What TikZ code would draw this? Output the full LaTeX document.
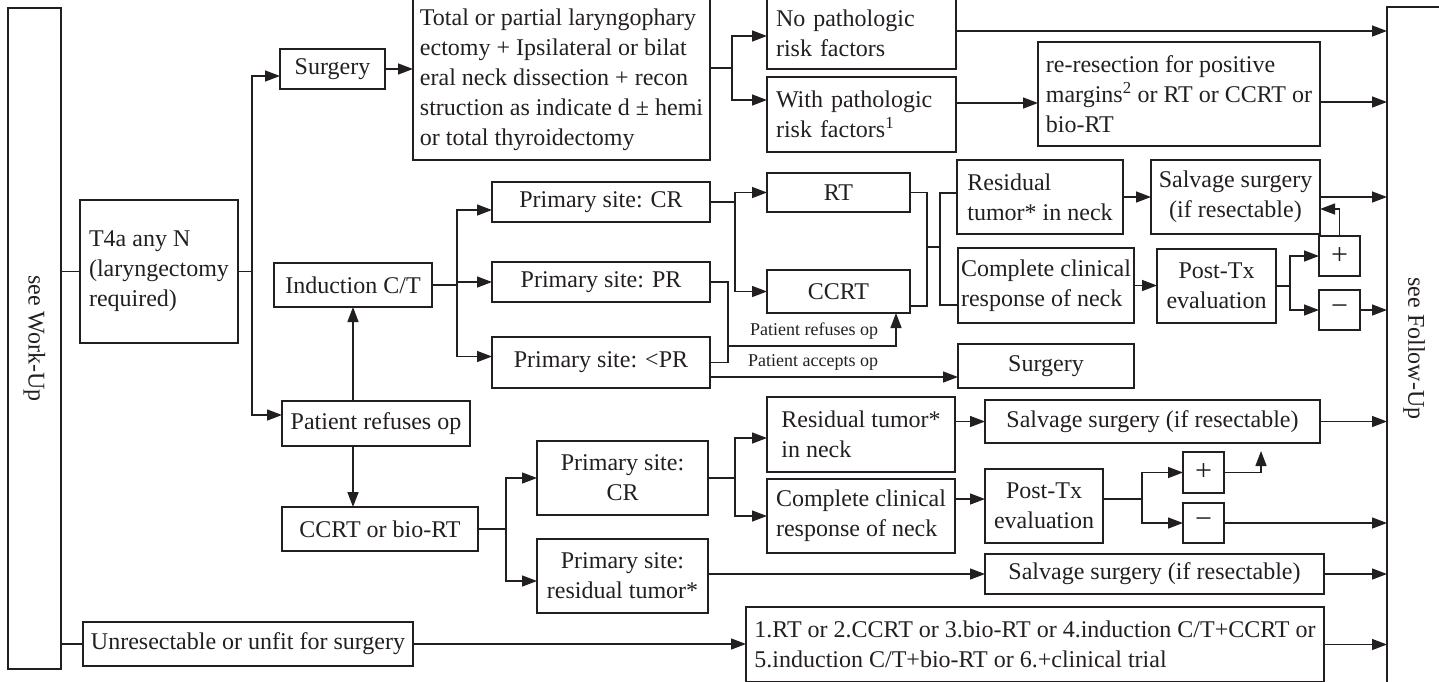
\documentclass[tikz,border=0pt]{standalone}
\usepackage{fontspec}
\setmainfont{Liberation Serif}
\usepackage{graphicx}
\usepackage{tikz}
\usetikzlibrary{arrows.meta,calc}
\definecolor{inkDark}{RGB}{35,31,32}

\tikzset{
  box/.style={draw=inkDark, line width=1.4pt, text=inkDark, inner sep=0pt, outer sep=0pt,
              align=center, font=\fontsize{24}{30}\selectfont},
  lbox/.style={box, align=left},
  wbox/.style={box, align=left, text width=#1},
  sign/.style={box, font=\fontsize{30}{30}\selectfont},
  line/.style={draw=inkDark, line width=1.4pt},
  arr/.style={line, -{Triangle[length=15pt,width=11pt]}},
  note/.style={text=inkDark, inner sep=0pt, font=\fontsize{18}{20}\selectfont}
}

\begin{document}
\begin{tikzpicture}[x=1pt,y=-1pt]
  \useasboundingbox (0,0) rectangle (1439,681);

  % side bars
  \node[box, minimum width=53pt, minimum height=661pt] (workup) at (34.5,338.5) {\rotatebox{-90}{see Work-Up}};
  \node[box, minimum width=54pt, minimum height=683pt] (followup) at (1414,348.5) {\rotatebox{-90}{see Follow-Up}};

  % stage
  \node[lbox, minimum width=158pt, minimum height=143pt] (t4a) at (159,271.5) {T4a any N\\(laryngectomy\\required)};

  % surgery row
  \node[box, minimum width=105pt, minimum height=40pt] (surg1) at (332.5,69) {Surgery};
  \node[lbox, minimum width=297pt, minimum height=161pt] (bigbox) at (561.5,79.5)
    {Total or partial laryngophary\\ectomy + Ipsilateral or bilat\\eral neck dissection + recon\\struction as indicate d ± hemi\\or total thyroidectomy};
  \node[wbox=171pt, minimum width=189pt, minimum height=71pt] (nopath) at (861.5,33.5) {No pathologic\\risk factors};
  \node[wbox=171pt, minimum width=189pt, minimum height=75pt] (withpath) at (861.5,114.5) {With pathologic\\risk factors\textsuperscript{1}};
  \node[lbox, minimum width=282pt, minimum height=104pt] (reres) at (1179,94)
    {re-resection for positive\\margins\textsuperscript{2} or RT or CCRT or\\bio-RT};

  % induction row
  \node[box, minimum width=158pt, minimum height=44pt] (induc) at (353,285) {Induction C/T};
  \node[box, minimum width=218pt, minimum height=40pt] (pcr) at (601,202) {Primary site: CR};
  \node[box, minimum width=218pt, minimum height=40pt] (ppr) at (601,282) {Primary site: PR};
  \node[box, minimum width=218pt, minimum height=51pt] (plpr) at (601,362.5) {Primary site: <PR};
  \node[box, minimum width=143pt, minimum height=39pt] (rt) at (838.5,192.5) {RT};
  \node[box, minimum width=143pt, minimum height=43pt] (ccrt) at (838.5,291.5) {CCRT};
  \node[lbox, minimum width=166pt, minimum height=74pt] (resid1) at (1040,197) {Residual\\tumor* in neck};
  \node[lbox, minimum width=176pt, minimum height=75pt] (compl1) at (1046,285.5) {Complete clinical\\response of neck};
  \node[box, minimum width=169pt, minimum height=74pt] (salv1) at (1235.5,197) {Salvage surgery\\(if resectable)};
  \node[box, minimum width=119pt, minimum height=74pt] (postx1) at (1216.5,286) {Post-Tx\\evaluation};
  \node[sign, minimum width=41pt, minimum height=40pt] (plus1) at (1339.5,256) {+};
  \node[sign, minimum width=41pt, minimum height=40pt] (minus1) at (1339.5,310) {−};
  \node[box, minimum width=176pt, minimum height=44pt] (surg2) at (1046,366) {Surgery};

  % patient refuses op row
  \node[box, minimum width=188pt, minimum height=45pt] (refuse) at (376,423.5) {Patient refuses op};
  \node[box, minimum width=196pt, minimum height=44pt] (ccrtbio) at (380,529) {CCRT or bio-RT};
  \node[box, minimum width=171pt, minimum height=74pt] (pcr2) at (622.5,478) {Primary site:\\CR};
  \node[box, minimum width=171pt, minimum height=74pt] (pres) at (622.5,576) {Primary site:\\residual tumor*};
  \node[lbox, minimum width=188pt, minimum height=75pt] (resid2) at (861,434.5) {Residual tumor*\\in neck};
  \node[lbox, minimum width=188pt, minimum height=74pt] (compl2) at (861,516) {Complete clinical\\response of neck};
  \node[box, minimum width=335pt, minimum height=43pt] (salv2) at (1152.5,421.5) {Salvage surgery (if resectable)};
  \node[box, minimum width=118pt, minimum height=74pt] (postx2) at (1044,506) {Post-Tx\\evaluation};
  \node[sign, minimum width=41pt, minimum height=41pt] (plus2) at (1203.5,472.5) {+};
  \node[sign, minimum width=41pt, minimum height=40pt] (minus2) at (1203.5,523) {−};
  \node[box, minimum width=339pt, minimum height=40pt] (salv3) at (1154.5,574) {Salvage surgery (if resectable)};

  % unresectable row
  \node[box, minimum width=330pt, minimum height=44pt] (unres) at (248,644) {Unresectable or unfit for surgery};
  \node[lbox, minimum width=578pt, minimum height=75pt] (options) at (1035,644.5)
    {1.RT or 2.CCRT or 3.bio-RT or 4.induction C/T+CCRT or\\5.induction C/T+bio-RT or 6.+clinical trial};

  % labels on the <PR connectors
  \node[note] (lblrefuse) at (814,331.5) {Patient refuses op};
  \node[note] (lblaccept) at (813,362) {Patient accepts op};

  % helper points
  \coordinate (splitT) at (252,271.5);
  \coordinate (splitS) at (732,68);
  \coordinate (splitI) at (457,285);
  \coordinate (splitC) at (735,202);
  \coordinate (joinP) at (728,346);
  \coordinate (refuseUp) at (896,346);
  \coordinate (mergeR) at (927,247);
  \coordinate (splitN) at (940,247);
  \coordinate (splitE) at (1290,286);
  \coordinate (splitB) at (506,529);
  \coordinate (splitR) at (735,478);
  \coordinate (splitF) at (1142,499);
  \coordinate (plusTip) at (1261,451);

  % Work-Up links
  \draw[line] (t4a.west) -- (t4a.west -| workup.east);
  \draw[line] (unres.west) -- (unres.west -| workup.east);
  \draw[line] (t4a.east) -- (splitT);
  \draw[arr] (splitT) |- ([yshift=-7pt]surg1.west);
  \draw[arr] (splitT) |- ([yshift=8.5pt]refuse.west);

  % surgery branch
  \draw[arr] (surg1.east) -- (surg1.east -| bigbox.west);
  \draw[line] (splitS -| bigbox.east) -- (splitS);
  \draw[arr] (splitS) |- ([yshift=-2.5pt]nopath.west);
  \draw[arr] (splitS) |- ([yshift=14.5pt]withpath.west);
  \draw[arr] ([yshift=2.5pt]nopath.east) -- ([yshift=2.5pt]nopath.east -| followup.west);
  \draw[arr] ([yshift=11.5pt]withpath.east) -- ([yshift=11.5pt]withpath.east -| reres.west);
  \draw[arr] ([yshift=-8pt]reres.east) -- ([yshift=-8pt]reres.east -| followup.west);

  % induction branch
  \draw[line] (induc.east) -- (splitI);
  \draw[arr] (splitI) |- ([yshift=-8pt]pcr.west);
  \draw[arr] (splitI) |- (ppr.west);
  \draw[arr] (splitI) |- ([yshift=6pt]plpr.west);
  \draw[line] (pcr.east) -- (splitC);
  \draw[arr] (splitC) |- (rt.west);
  \draw[arr] (splitC) |- (ccrt.west);
  \draw[line] (ppr.east) -| ([xshift=18pt]plpr.east) -- (plpr.east);
  \draw[arr] (joinP) -- (refuseUp) -- (refuseUp |- ccrt.south);
  \draw[arr] ([yshift=-14.5pt]plpr.east) -- ([yshift=-14.5pt]plpr.east -| surg2.west);
  \draw[line] (rt.east) -| ([xshift=17pt,yshift=-14.5pt]ccrt.east) -- ([yshift=-14.5pt]ccrt.east);
  \draw[line] (mergeR) -- (splitN);
  \draw[line] (splitN) |- ([yshift=4pt]resid1.west);
  \draw[line] (splitN) |- ([yshift=-19.5pt]compl1.west);
  \draw[arr] (resid1.east) -- (resid1.east -| salv1.west);
  \draw[arr] (salv1.east) -- (salv1.east -| followup.west);
  \draw[arr] (compl1.east) -- (compl1.east -| postx1.west);
  \draw[line] (postx1.east) -- (splitE);
  \draw[arr] (splitE) |- (plus1.west);
  \draw[arr] (splitE) |- (minus1.west);
  \draw[arr] (plus1.north) |- ([yshift=-12pt]salv1.east);
  \draw[arr] (minus1.east) -- (minus1.east -| followup.west);

  % refuses op branch
  \draw[arr] (induc.south |- refuse.north) -- (induc.south);
  \draw[arr] (induc.south |- refuse.south) -- (induc.south |- ccrtbio.north);
  \draw[line] (ccrtbio.east) -- (splitB);
  \draw[arr] (splitB) |- (pcr2.west);
  \draw[arr] (splitB) |- ([yshift=-5pt]pres.west);
  \draw[line] (pcr2.east) -- (splitR);
  \draw[arr] (splitR) |- ([yshift=-3.5pt]resid2.west);
  \draw[arr] (splitR) |- (compl2.west);
  \draw[arr] (salv2.west -| resid2.east) -- (salv2.west);
  \draw[arr] (salv2.east) -- (salv2.east -| followup.west);
  \draw[arr] ([yshift=7pt]postx2.west -| compl2.east) -- ([yshift=7pt]postx2.west);
  \draw[line] ([yshift=7pt]postx2.east) -- (splitF);
  \draw[arr] (splitF) |- (plus2.west);
  \draw[arr] (splitF) |- (minus2.west);
  \draw[arr] (plus2.east) -| (plusTip);
  \draw[arr] (minus2.east) -- (minus2.east -| followup.west);
  \draw[arr] (salv3.west -| pres.east) -- (salv3.west);
  \draw[arr] (salv3.east) -- (salv3.east -| followup.west);

  % unresectable
  \draw[arr] (unres.east) -- (unres.east -| options.west);
  \draw[arr] (options.east) -- (options.east -| followup.west);
\end{tikzpicture}
\end{document}
